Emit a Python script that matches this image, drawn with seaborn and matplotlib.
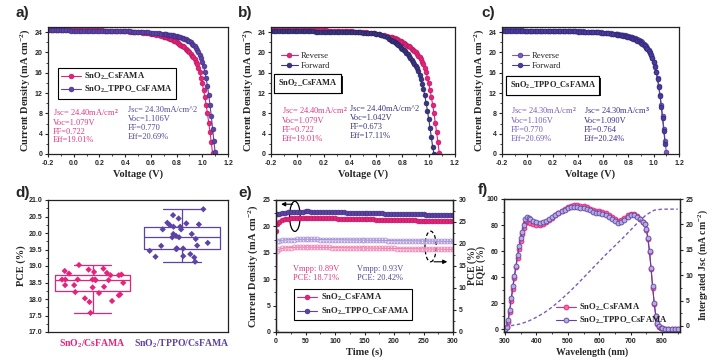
import numpy as np
import pandas as pd
import matplotlib
matplotlib.use('Agg')
import matplotlib.pyplot as plt
import seaborn as sns
import matplotlib.patheffects as pe
from matplotlib.patches import Ellipse
from matplotlib.ticker import MultipleLocator, FormatStrFormatter

# ---------------- data ----------------
# J-V sweeps (V, mA cm^-2)
volt = [-0.20, -0.18, -0.16, -0.14, -0.12, -0.10, -0.08, -0.06, -0.04, -0.02,
        0.00, 0.02, 0.04, 0.06, 0.08, 0.10, 0.12, 0.14, 0.16, 0.18,
        0.20, 0.22, 0.24, 0.26, 0.28, 0.30, 0.32, 0.34, 0.36, 0.38,
        0.40, 0.42, 0.44, 0.46, 0.48, 0.50, 0.52, 0.54, 0.56, 0.58,
        0.60, 0.62, 0.64, 0.66, 0.68, 0.70,
        0.71, 0.72, 0.73, 0.74, 0.75, 0.76, 0.77, 0.78, 0.79, 0.80,
        0.81, 0.82, 0.83, 0.84, 0.85, 0.86, 0.87, 0.88, 0.89, 0.90,
        0.91, 0.92, 0.93, 0.94, 0.95, 0.96, 0.97, 0.98, 0.99, 1.00,
        1.01, 1.02, 1.03, 1.04, 1.05, 1.06, 1.07, 1.08, 1.09, 1.10]

ref_reverse = [24.45, 24.45, 24.44, 24.44, 24.43, 24.43, 24.42, 24.42, 24.41, 24.41,
               24.40, 24.40, 24.39, 24.39, 24.38, 24.38, 24.37, 24.36, 24.35, 24.34,
               24.33, 24.32, 24.31, 24.30, 24.29, 24.27, 24.25, 24.23, 24.21, 24.18,
               24.15, 24.12, 24.09, 24.05, 24.01, 23.97, 23.92, 23.87, 23.81, 23.74,
               23.66, 23.57, 23.47, 23.36, 23.24, 23.11,
               23.03, 22.96, 22.88, 22.80, 22.70, 22.58, 22.45, 22.32, 22.17, 22.01,
               21.85, 21.69, 21.52, 21.35, 21.17, 20.97, 20.76, 20.53, 20.28, 20.00,
               19.70, 19.38, 19.03, 18.64, 18.18, 17.62, 16.92, 16.05, 15.05, 13.90,
               12.60, 11.20, 9.70, 8.00, 6.20, 4.30, 2.30, 0.20]

ref_forward = [24.25, 24.24, 24.23, 24.23, 24.22, 24.21, 24.20, 24.19, 24.19, 24.18,
               24.17, 24.16, 24.15, 24.15, 24.14, 24.13, 24.12, 24.11, 24.10, 24.09,
               24.08, 24.07, 24.06, 24.06, 24.05, 24.04, 24.03, 24.02, 24.01, 24.01,
               24.00, 23.98, 23.96, 23.94, 23.92, 23.89, 23.86, 23.82, 23.78, 23.73,
               23.67, 23.55, 23.40, 23.20, 22.95, 22.65,
               22.50, 22.34, 22.17, 21.99, 21.80, 21.60, 21.39, 21.17, 20.94, 20.70,
               20.45, 20.18, 19.90, 19.60, 19.28, 18.94, 18.58, 18.20, 17.79, 17.36,
               16.85, 16.25, 15.55, 14.75, 13.85, 12.80, 11.55, 10.10, 8.55, 6.90,
               5.15, 3.30, 1.40, 0.00]

tppo_reverse = [24.35, 24.35, 24.34, 24.34, 24.34, 24.33, 24.33, 24.32, 24.32, 24.31,
                24.31, 24.31, 24.30, 24.30, 24.29, 24.29, 24.28, 24.28, 24.27, 24.27,
                24.26, 24.25, 24.25, 24.24, 24.23, 24.22, 24.21, 24.20, 24.19, 24.17,
                24.16, 24.14, 24.12, 24.10, 24.08, 24.06, 24.03, 24.00, 23.97, 23.93,
                23.89, 23.85, 23.80, 23.75, 23.69, 23.63,
                23.60, 23.56, 23.52, 23.48, 23.44, 23.39, 23.34, 23.29, 23.23, 23.17,
                23.10, 23.03, 22.95, 22.87, 22.78, 22.68, 22.57, 22.45, 22.32, 22.18,
                21.95, 21.72, 21.46, 21.17, 20.85, 20.49, 20.05, 19.55, 18.95, 18.20,
                17.30, 16.20, 14.90, 13.40, 11.60, 9.60, 7.40, 5.00, 2.60, 0.30]

tppo_forward = [24.30, 24.30, 24.29, 24.29, 24.29, 24.28, 24.28, 24.27, 24.27, 24.26,
                24.26, 24.26, 24.25, 24.25, 24.24, 24.24, 24.23, 24.23, 24.22, 24.22,
                24.21, 24.20, 24.20, 24.19, 24.18, 24.17, 24.16, 24.15, 24.14, 24.12,
                24.11, 24.09, 24.07, 24.05, 24.03, 24.01, 23.98, 23.95, 23.92, 23.88,
                23.84, 23.79, 23.74, 23.68, 23.62, 23.55,
                23.51, 23.47, 23.43, 23.38, 23.33, 23.28, 23.22, 23.16, 23.10, 23.03,
                22.95, 22.87, 22.78, 22.68, 22.57, 22.45, 22.32, 22.18, 22.03, 21.86,
                21.67, 21.46, 21.22, 20.96, 20.67, 20.34, 19.95, 19.45, 18.85, 18.10,
                17.20, 16.10, 14.75, 13.20, 11.35, 9.30, 7.00, 4.55, 2.00]

# PCE statistics (%)
pce_ref = [18.59, 18.72, 18.89, 18.79, 18.49, 18.59, 18.35, 18.42, 18.59, 18.59,
           18.37, 17.94, 18.02, 18.85, 19.03, 18.72, 18.42, 17.91, 18.14, 18.59,
           18.18, 18.74, 18.21, 18.57, 18.11, 18.77, 18.82, 18.57, 18.92, 17.58]
pce_tppo = [20.11, 20.11, 20.19, 20.19, 20.54, 20.72, 20.26, 20.24, 20.29, 20.31,
            20.44, 19.87, 19.97, 19.97, 19.87, 19.82, 19.91, 19.70, 19.61, 19.62,
            19.53, 19.53, 19.36, 19.53, 19.51, 19.46, 19.28, 19.13, 19.30, 19.26]
groups = ['SnO$_2$/CsFAMA', 'SnO$_2$/TPPO/CsFAMA']

# steady-state output (s, mA cm^-2, %)
time_s = [0, 2, 5, 10, 15, 20, 25, 30, 35, 40, 45, 50, 55, 60,
          65, 70, 75, 80, 85, 90, 95, 100, 105, 110,
          115, 120, 125, 130, 135, 140, 145, 150, 155, 160,
          165, 170, 175, 180, 185, 190, 195, 200, 205, 210,
          215, 220, 225, 230, 235, 240, 245, 250, 255, 260,
          265, 270, 275, 280, 285, 290, 295, 300]
cur_ref = [19.20, 20.40, 20.90, 21.20, 21.35, 21.45, 21.50, 21.55, 21.60, 21.62, 21.65, 21.65, 21.65, 21.64,
           21.62, 21.60, 21.58, 21.56, 21.55, 21.53, 21.52, 21.50, 21.48, 21.47,
           21.45, 21.44, 21.42, 21.41, 21.40, 21.38, 21.37, 21.35, 21.34, 21.32,
           21.31, 21.30, 21.28, 21.27, 21.26, 21.24, 21.23, 21.22, 21.20, 21.19,
           21.18, 21.16, 21.15, 21.14, 21.12, 21.11, 21.10, 21.08, 21.07, 21.06,
           21.04, 21.03, 21.02, 21.00, 20.99, 20.98, 20.96, 20.95]
cur_tppo = [22.30, 22.35, 22.40, 22.50, 22.60, 22.65, 22.70, 22.75, 22.78, 22.80, 22.82, 22.83, 22.83, 22.82,
            22.80, 22.78, 22.76, 22.75, 22.73, 22.72, 22.70, 22.69, 22.67, 22.66,
            22.64, 22.63, 22.61, 22.60, 22.58, 22.57, 22.55, 22.54, 22.52, 22.51,
            22.50, 22.48, 22.47, 22.45, 22.44, 22.42, 22.41, 22.40, 22.38, 22.37,
            22.35, 22.34, 22.33, 22.31, 22.30, 22.28, 22.27, 22.26, 22.24, 22.23,
            22.21, 22.20, 22.19, 22.17, 22.16, 22.14, 22.13, 22.12]
pce_t_ref = [0.00, 18.40, 18.80, 19.00, 19.10, 19.15, 19.20, 19.22, 19.25, 19.27, 19.28, 19.28, 19.28, 19.27,
             19.26, 19.25, 19.24, 19.23, 19.22, 19.21, 19.20, 19.19, 19.18, 19.17,
             19.16, 19.15, 19.14, 19.13, 19.12, 19.11, 19.10, 19.09, 19.08, 19.07,
             19.06, 19.05, 19.04, 19.02, 19.01, 19.00, 18.99, 18.98, 18.97, 18.96,
             18.95, 18.94, 18.93, 18.92, 18.91, 18.90, 18.88, 18.87, 18.86, 18.85,
             18.84, 18.83, 18.82, 18.81, 18.80, 18.79, 18.78, 18.77]
pce_t_tppo = [0.00, 20.60, 20.75, 20.85, 20.90, 20.95, 21.00, 21.02, 21.04, 21.05, 21.06, 21.06, 21.06, 21.05,
              21.04, 21.03, 21.02, 21.01, 21.00, 20.99, 20.98, 20.97, 20.96, 20.95,
              20.94, 20.93, 20.92, 20.91, 20.90, 20.89, 20.88, 20.87, 20.86, 20.85,
              20.84, 20.83, 20.82, 20.81, 20.80, 20.79, 20.78, 20.77, 20.76, 20.75,
              20.74, 20.73, 20.72, 20.71, 20.70, 20.69, 20.68, 20.67, 20.66, 20.65,
              20.64, 20.63, 20.62, 20.61, 20.60, 20.59, 20.58, 20.57]

# EQE spectra (nm, %)
wavelength = [300, 305, 310, 315, 320, 325, 330, 335, 340, 345, 350, 355, 360, 365, 370, 375, 380,
              390, 400, 410, 420, 430, 440, 450, 460, 470, 480, 490, 500, 510, 520, 530, 540,
              550, 560, 570, 580, 590, 600, 610, 620, 630, 640, 650, 660, 670, 680, 690, 700,
              710, 720, 730,
              740, 745, 750, 755, 760, 765, 770, 775, 780, 785, 790, 795, 800,
              810, 820, 830, 840, 850]
eqe_ref = [0.3, 1.5, 6.0, 13.5, 22.0, 31.0, 39.5, 47.5, 55.0, 62.0, 68.0, 73.5, 78.0, 81.5, 83.0, 82.5, 81.5,
           80.5, 80.0, 80.0, 80.8, 82.0, 83.8, 85.5, 87.5, 89.3, 91.0, 92.5, 93.8, 94.8, 95.5, 95.5, 95.0,
           94.3, 93.5, 92.6, 91.7, 91.0, 90.6, 90.0, 89.2, 88.0, 86.5, 84.8, 83.5, 84.0, 85.8, 87.8, 88.8,
           88.7, 87.3, 85.0,
           82.5, 80.5, 76.0, 69.0, 59.0, 46.0, 32.0, 19.5, 10.0, 4.5, 2.2, 1.2, 0.7,
           0.4, 0.3, 0.2, 0.2, 0.2]
eqe_tppo = [0.5, 2.0, 7.0, 15.0, 24.0, 33.0, 41.0, 49.0, 57.0, 64.0, 70.0, 75.0, 80.0, 84.5, 86.0, 85.5, 84.5,
            83.0, 82.0, 81.5, 82.0, 83.0, 84.5, 86.0, 87.5, 89.0, 90.5, 91.8, 92.8, 93.6, 94.0, 93.8, 93.3,
            92.8, 92.0, 91.2, 90.3, 89.5, 89.0, 88.3, 87.5, 86.3, 84.6, 82.8, 81.5, 82.0, 84.0, 86.3, 87.5,
            87.6, 86.5, 84.5,
            82.5, 81.0, 77.0, 70.0, 60.0, 47.0, 33.0, 20.0, 10.5, 5.0, 2.5, 1.3, 0.8,
            0.4, 0.3, 0.2, 0.2, 0.2]
jsc_wl = [300, 325, 350, 375, 400, 425, 450, 475, 500, 525, 550, 575, 600,
          625, 650, 675, 700, 725, 750, 775, 800, 825, 850]
jsc_int = [0.0, 0.1, 0.4, 0.95, 1.7, 2.6, 3.7, 5.0, 6.4, 7.9, 9.5, 11.1, 12.7,
           14.3, 15.8, 17.3, 18.9, 20.5, 21.9, 22.8, 23.0, 23.0, 23.0]

# ---------------- style ----------------
sns.set_style('ticks')
plt.rcParams['font.family'] = ['Liberation Sans', 'DejaVu Sans']
plt.rcParams['font.weight'] = 'bold'
plt.rcParams['axes.labelweight'] = 'bold'
plt.rcParams['mathtext.fontset'] = 'custom'
plt.rcParams['mathtext.rm'] = 'Liberation Serif:bold'
plt.rcParams['mathtext.it'] = 'Liberation Serif:italic:bold'
plt.rcParams['mathtext.bf'] = 'Liberation Serif:bold'
plt.rcParams['axes.linewidth'] = 0.9

SERIF = 'Liberation Serif'
PINK = '#e4247b'
PINK_EDGE = '#b4145c'
PURPLE = '#5c43a4'
PURPLE_EDGE = '#3c2a80'
NAVY = '#39357f'
LILAC = '#7b5cbc'
PINK_TXT = '#df3a85'
PURPLE_TXT = '#57479a'
MS = 3.5

fig = plt.figure(figsize=(7.25, 3.61), dpi=100)
W, H = 725, 361


def add_ax(left, top, right, bottom):
    return fig.add_axes([left / W, 1 - bottom / H, (right - left) / W, (bottom - top) / H])


def style_ax(ax, xlabel, ylabel, lsize=7.5, ypad=2):
    ax.tick_params(which='major', direction='out', length=2.5, width=0.8, labelsize=5, pad=1.5)
    ax.tick_params(which='minor', direction='out', length=1.5, width=0.6)
    ax.set_xlabel(xlabel, family=SERIF, fontsize=lsize, labelpad=2)
    ax.set_ylabel(ylabel, family=SERIF, fontsize=lsize, labelpad=ypad)
    for s in ax.spines.values():
        s.set_visible(True)
        s.set_color('#222222')


def jv_plot(ax, x, y, color, edge, label):
    sns.lineplot(x=x[:len(y)], y=y, ax=ax, color=color, lw=0.8, marker='o', markersize=MS,
                 markeredgecolor=edge, markeredgewidth=0.4, sort=False, label=label)


def jv_axes(ax):
    ax.set_xlim(-0.2, 1.2)
    ax.set_ylim(0, 25)
    ax.xaxis.set_major_locator(MultipleLocator(0.2))
    ax.xaxis.set_minor_locator(MultipleLocator(0.1))
    ax.xaxis.set_major_formatter(FormatStrFormatter('%.1f'))
    ax.yaxis.set_major_locator(MultipleLocator(4))
    ax.yaxis.set_minor_locator(MultipleLocator(2))
    style_ax(ax, 'Voltage (V)', 'Current Density (mA cm$^{-2}$)')


def note(ax, x, y, s, color, size=6):
    ax.text(x, y, s, color=color, family=SERIF, fontweight='normal', fontsize=size,
            va='top', linespacing=1.15)


def boxed(ax, x, y, s):
    t = ax.text(x, y, s, family=SERIF, fontsize=6, ha='center', va='center',
                bbox=dict(boxstyle='square,pad=0.45', fc='white', ec='black', lw=0.8))
    t.get_bbox_patch().set_path_effects([pe.withSimplePatchShadow(offset=(1.2, -1.2),
                                                                  shadow_rgbFace='black', alpha=0.9),
                                         pe.Normal()])


def panel_label(x, y, s):
    fig.text(x / W, 1 - y / H, s, fontsize=11, fontweight='bold', va='top', ha='left')


jv_txt_ref = 'Jsc= 24.40mA/cm$^2$\nVoc=1.079V\nFF=0.722\nEff=19.01%'
leg_bold = dict(family=SERIF, weight='bold', size=6.2)
leg_norm = dict(family=SERIF, weight='normal', size=6.2)

# ---- a) ----
ax_a = add_ax(48, 27, 228, 154)
jv_plot(ax_a, volt, ref_reverse, PINK, PINK_EDGE, 'SnO$_2$_CsFAMA')
jv_plot(ax_a, volt, tppo_reverse, PURPLE, PURPLE_EDGE, 'SnO$_2$_TPPO_CsFAMA')
jv_axes(ax_a)
ax_a.legend(loc='upper left', bbox_to_anchor=(0.03, 0.715), frameon=True, fancybox=False,
            edgecolor='black', framealpha=1, borderpad=0.35, labelspacing=0.3,
            handlelength=2.3, handletextpad=0.4, prop=leg_bold)
ax_a.get_legend().get_frame().set_linewidth(0.8)
note(ax_a, -0.16, 9.3, jv_txt_ref, PINK_TXT)
note(ax_a, 0.42, 9.4, 'Jsc= 24.30mA/cm^2\nVoc=1.106V\nFF=0.770\nEff=20.69%', PURPLE_TXT)

# ---- b) ----
ax_b = add_ax(271, 27, 455, 154)
jv_plot(ax_b, volt, ref_reverse, PINK, PINK_EDGE, 'Reverse')
jv_plot(ax_b, volt, ref_forward, NAVY, '#24205a', 'Forward')
jv_axes(ax_b)
ax_b.legend(loc='upper left', bbox_to_anchor=(0.02, 0.85), frameon=False, borderpad=0.2,
            labelspacing=0.2, handlelength=2.0, handletextpad=0.3, prop=leg_norm)
boxed(ax_b, 0.08, 13.9, 'SnO$_2$_CsFAMA')
note(ax_b, -0.12, 9.6, jv_txt_ref, PINK_TXT)
note(ax_b, 0.40, 9.6, 'Jsc= 24.40mA/cm^2\nVoc=1.042V\nFF=0.673\nEff=17.11%', NAVY)

# ---- c) ----
ax_c = add_ax(502, 27, 679, 154)
jv_plot(ax_c, volt, tppo_reverse, LILAC, PURPLE_EDGE, 'Reverse')
jv_plot(ax_c, volt, tppo_forward, '#4a3c9c', '#2c2270', 'Forward')
jv_axes(ax_c)
ax_c.legend(loc='upper left', bbox_to_anchor=(0.02, 0.85), frameon=False, borderpad=0.2,
            labelspacing=0.2, handlelength=2.0, handletextpad=0.3, prop=leg_norm)
boxed(ax_c, 0.20, 13.5, 'SnO$_2$_TPPO_CsFAMA')
note(ax_c, -0.13, 9.6, 'Jsc= 24.30mA/cm$^2$\nVoc=1.106V\nFF=0.770\nEff=20.69%', LILAC)
note(ax_c, 0.45, 9.6, 'Jsc= 24.30mA/cm$^3$\nVoc=1.090V\nFF=0.764\nEff=20.24%', '#3e3290')

# ---- d) ----
ax_d = add_ax(48, 200, 228, 332)
df_d = pd.DataFrame({'group': [groups[0]] * len(pce_ref) + [groups[1]] * len(pce_tppo),
                     'pce': pce_ref + pce_tppo})
sns.boxplot(data=df_d, x='group', y='pce', hue='group', palette=[PINK, PURPLE], fill=False,
            width=0.85, whis=(0, 100), showfliers=False, linewidth=0.9, legend=False, ax=ax_d)
np.random.seed(7)
sns.stripplot(data=df_d, x='group', y='pce', hue='group', palette=[PINK, PURPLE], marker='D',
              size=3.2, jitter=0.36, legend=False, ax=ax_d)
ax_d.set_xlim(-0.5, 1.52)
ax_d.set_ylim(17.0, 21.0)
ax_d.yaxis.set_major_locator(MultipleLocator(0.5))
ax_d.yaxis.set_minor_locator(MultipleLocator(0.25))
ax_d.yaxis.set_major_formatter(FormatStrFormatter('%.1f'))
style_ax(ax_d, '', 'PCE (%)')
ax_d.tick_params(axis='x', length=0, pad=4)
for lbl, col in zip(ax_d.get_xticklabels(), [PINK, PURPLE]):
    lbl.set_color(col)
    lbl.set_family(SERIF)
    lbl.set_fontsize(7)

# ---- e) ----
ax_e = add_ax(276, 200, 453, 332)
ax_e2 = ax_e.twinx()
sns.lineplot(x=time_s, y=cur_ref, ax=ax_e, color=PINK, lw=0.8, marker='o', markersize=MS,
             markeredgecolor=PINK_EDGE, markeredgewidth=0.4, sort=False, label='SnO$_2$_CsFAMA')
sns.lineplot(x=time_s, y=cur_tppo, ax=ax_e, color=PURPLE, lw=0.8, marker='o', markersize=MS,
             markeredgecolor=PURPLE_EDGE, markeredgewidth=0.4, sort=False, label='SnO$_2$_TPPO_CsFAMA')
sns.lineplot(x=time_s, y=pce_t_ref, ax=ax_e2, color='#f07aae', lw=0.7, marker='o', markersize=MS,
             markerfacecolor='none', markeredgecolor='#ee86b6', markeredgewidth=0.6, sort=False)
sns.lineplot(x=time_s, y=pce_t_tppo, ax=ax_e2, color='#a994d8', lw=0.7, marker='o', markersize=MS,
             markerfacecolor='none', markeredgecolor='#a994d8', markeredgewidth=0.6, sort=False)
ax_e.set_xlim(0, 300)
ax_e.set_ylim(0, 25)
ax_e2.set_ylim(0, 30)
ax_e.xaxis.set_major_locator(MultipleLocator(50))
ax_e.xaxis.set_minor_locator(MultipleLocator(25))
ax_e.yaxis.set_major_locator(MultipleLocator(5))
ax_e.yaxis.set_minor_locator(MultipleLocator(2.5))
ax_e2.yaxis.set_major_locator(MultipleLocator(5))
ax_e2.yaxis.set_minor_locator(MultipleLocator(2.5))
style_ax(ax_e, 'Time (s)', 'Current Density (mA cm$^{-2}$)')
style_ax(ax_e2, '', 'PCE (%)', lsize=7, ypad=0.5)
ax_e.legend(loc='upper left', bbox_to_anchor=(0.08, 0.36), frameon=True, fancybox=False,
            edgecolor='black', framealpha=1, borderpad=0.35, labelspacing=0.3,
            handlelength=2.3, handletextpad=0.4, prop=leg_bold)
ax_e.get_legend().get_frame().set_linewidth(0.8)
note(ax_e, 28, 12.7, 'Vmpp: 0.89V\nPCE: 18.71%', PINK_TXT)
note(ax_e, 138, 12.7, 'Vmpp: 0.93V\nPCE: 20.42%', PURPLE_TXT)
ax_e.add_patch(Ellipse((32, 21.9), 18, 5.7, fill=False, ec='black', lw=0.9))
ax_e.annotate('', xy=(4, 24.2), xytext=(33, 24.2),
              arrowprops=dict(arrowstyle='-|>', color='black', lw=0.8, mutation_scale=6))
ax_e.add_patch(Ellipse((262, 16.2), 19, 5.8, fill=False, ec='black', lw=0.9, ls=(0, (3, 2))))
ax_e.annotate('', xy=(295, 13.3), xytext=(263, 13.3),
              arrowprops=dict(arrowstyle='-|>', color='black', lw=0.8, mutation_scale=6))

# ---- f) ----
ax_f = add_ax(504, 199, 680, 332)
ax_f2 = ax_f.twinx()
sns.lineplot(x=wavelength, y=eqe_ref, ax=ax_f, color=PINK, lw=0.8, marker='o', markersize=MS,
             markerfacecolor='#f06aa8', markeredgecolor=PINK, markeredgewidth=0.6, sort=False,
             label='SnO$_2$_CsFAMA')
sns.lineplot(x=wavelength, y=eqe_tppo, ax=ax_f, color=PURPLE, lw=0.8, marker='o', markersize=MS,
             markerfacecolor='#b9aae0', markeredgecolor='#5a48a8', markeredgewidth=0.6, sort=False,
             label='SnO$_2$_TPPO_CsFAMA')
sns.lineplot(x=jsc_wl, y=jsc_int, ax=ax_f2, color='#7a5cc0', lw=1.0, linestyle=(0, (2.5, 1.8)), sort=False)
ax_f.set_xlim(297, 857)
ax_f.set_ylim(-2, 100)
ax_f2.set_ylim(-1.2, 25)
ax_f.xaxis.set_major_locator(MultipleLocator(100))
ax_f.xaxis.set_minor_locator(MultipleLocator(50))
ax_f.yaxis.set_major_locator(MultipleLocator(20))
ax_f.yaxis.set_minor_locator(MultipleLocator(10))
ax_f2.yaxis.set_major_locator(MultipleLocator(5))
ax_f2.yaxis.set_minor_locator(MultipleLocator(2.5))
style_ax(ax_f, 'Wavelength (nm)', 'EQE (%)', lsize=7, ypad=0.3)
style_ax(ax_f2, '', 'Intergrated Jsc (mA cm$^{-2}$)', lsize=7)
ax_f.legend(loc='lower left', bbox_to_anchor=(0.26, 0.0), frameon=False, borderpad=0.2,
            labelspacing=0.15, handlelength=2.3, handletextpad=0.4, prop=leg_bold)

panel_label(15, 6, 'a)')
panel_label(238, 6, 'b)')
panel_label(481, 6, 'c)')
panel_label(15, 186, 'd)')
panel_label(238, 186, 'e)')
panel_label(478, 183, 'f)')

fig.savefig('out.png', dpi=100)
